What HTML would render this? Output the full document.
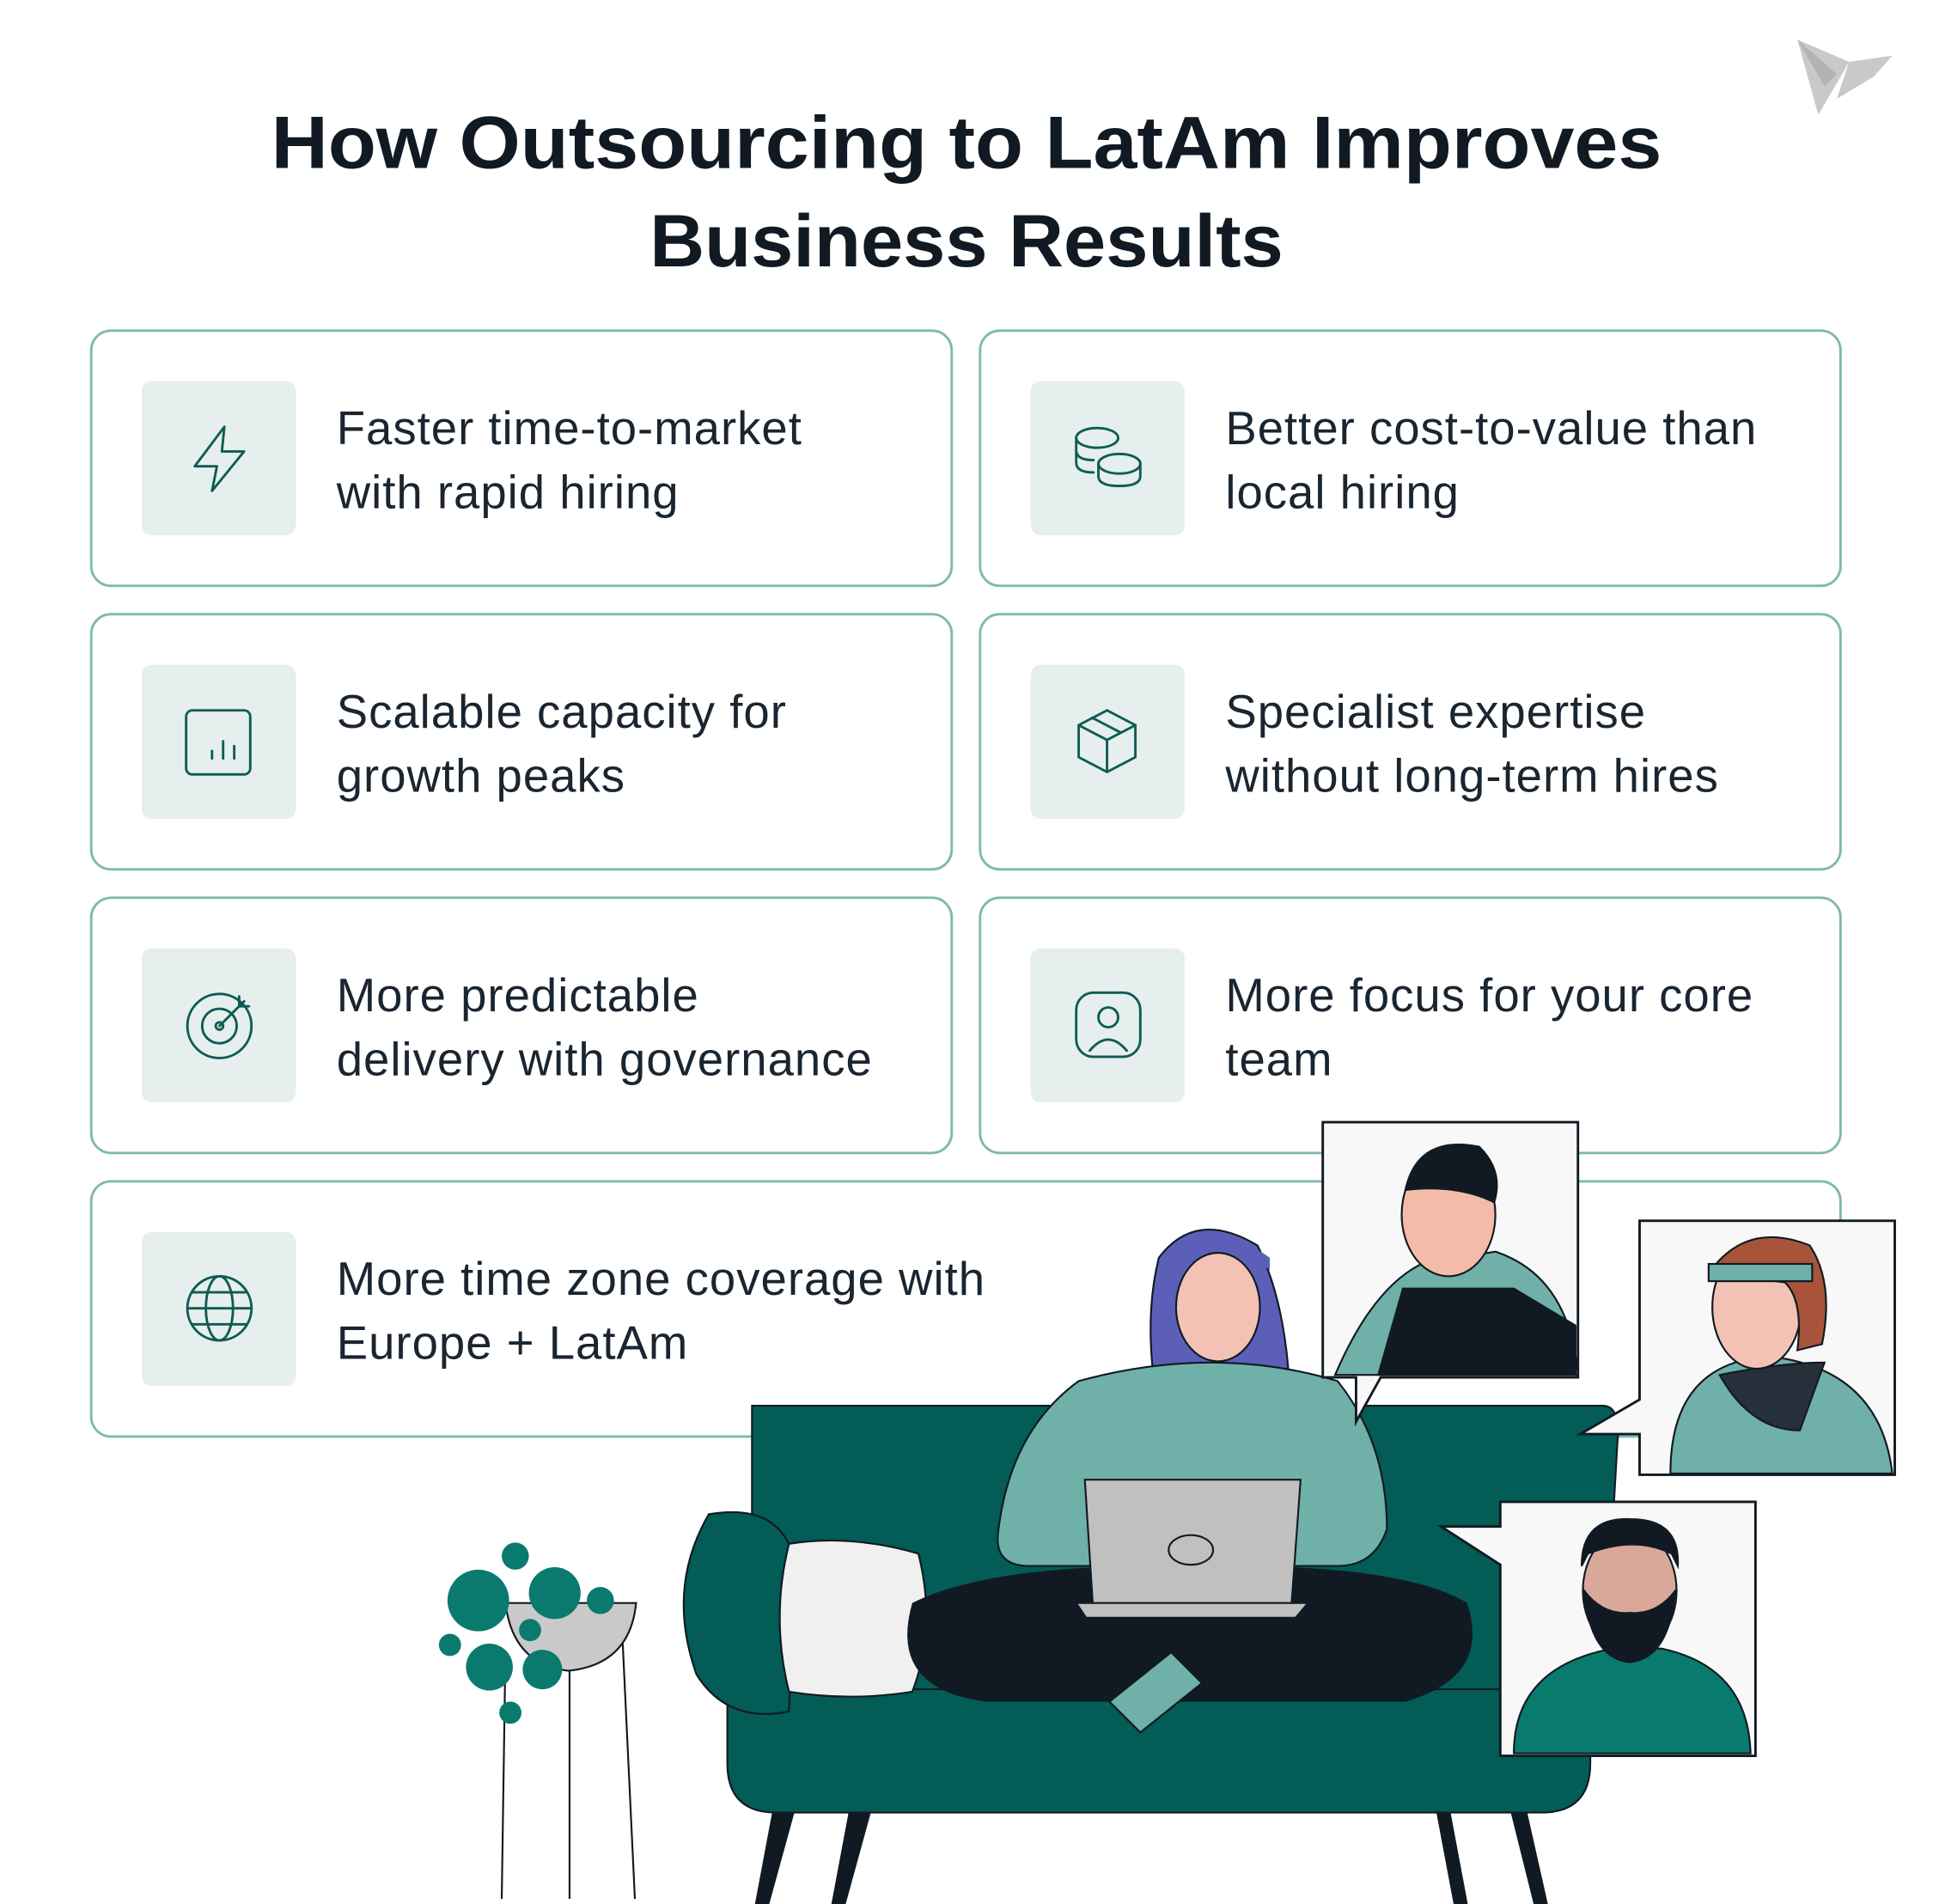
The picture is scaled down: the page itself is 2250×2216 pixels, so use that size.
<!DOCTYPE html>
<html><head><meta charset="utf-8"><style>
html,body{margin:0;padding:0;background:#fff}
svg{display:block}
</style></head><body>
<svg width="2250" height="2216" viewBox="0 0 1568 1544" xmlns="http://www.w3.org/2000/svg" font-family="Liberation Sans, sans-serif">
<rect width="1568" height="1544" fill="#fff"/>
<g fill="#c9c9c9"><polygon points="1458,32 1500,50 1475,93"/><polygon points="1500,50 1535,45 1520,62 1490,80"/><polygon points="1458,32 1490,60 1480,70" fill="#b3b3b3"/></g>
<text x="784" y="136" text-anchor="middle" font-size="60" font-weight="bold" fill="#111a22" textLength="1128" lengthAdjust="spacingAndGlyphs">How Outsourcing to LatAm Improves</text>
<text x="784" y="216" text-anchor="middle" font-size="60" font-weight="bold" fill="#111a22" textLength="514" lengthAdjust="spacingAndGlyphs">Business Results</text>
<g fill="#fff" stroke="#7fb8b0" stroke-width="2">
<rect x="74" y="268" width="698" height="207" rx="16"/>
<rect x="795" y="268" width="698" height="207" rx="16"/>
<rect x="74" y="498" width="698" height="207" rx="16"/>
<rect x="795" y="498" width="698" height="207" rx="16"/>
<rect x="74" y="728" width="698" height="207" rx="16"/>
<rect x="795" y="728" width="698" height="207" rx="16"/>
<rect x="74" y="958" width="1419" height="207" rx="16"/>
</g>
<g fill="#e6efed">
<rect x="115" y="309" width="125" height="125" rx="8"/>
<rect x="836" y="309" width="125" height="125" rx="8"/>
<rect x="115" y="539" width="125" height="125" rx="8"/>
<rect x="836" y="539" width="125" height="125" rx="8"/>
<rect x="115" y="769" width="125" height="125" rx="8"/>
<rect x="836" y="769" width="125" height="125" rx="8"/>
<rect x="115" y="999" width="125" height="125" rx="8"/>
</g>
<g fill="none" stroke="#0d5c55" stroke-width="2" stroke-linejoin="round" stroke-linecap="round">
<polygon points="182,346 158,378 176,378 172,398 198,366 180,366"/>
<ellipse cx="890" cy="355" rx="17" ry="8"/><path d="M873,355v20q0,8 14,8M873,365q0,8 14,8"/><ellipse cx="908" cy="376" rx="17" ry="8"/><path d="M891,376v10q0,8 17,8q17,0 17,-8v-10"/>
<rect x="151" y="576" width="52" height="52" rx="5"/><path d="M172,615v-6M181,615v-14M190,615v-10"/>
<path d="M898,576l23,12v26l-23,12l-23,-12v-26z M875,588l23,12l23,-12 M898,600v26 M886,582l23,12"/>
<circle cx="178" cy="832" r="26"/><circle cx="178" cy="832" r="14"/><circle cx="178" cy="832" r="3"/><path d="M178,832l20,-20M194,808v8h8"/>
<rect x="873" y="805" width="52" height="52" rx="14"/><circle cx="899" cy="825" r="8"/><path d="M884,852q15,-18 30,0"/>
<circle cx="178" cy="1061" r="26"/><ellipse cx="178" cy="1061" rx="11" ry="26"/><path d="M152,1061h52M156,1048h44M156,1074h44"/>
</g>
<g font-size="38" fill="#1a2530" letter-spacing="0.7">
<text x="273" y="360">Faster time-to-market</text><text x="273" y="412">with rapid hiring</text>
<text x="994" y="360">Better cost-to-value than</text><text x="994" y="412">local hiring</text>
<text x="273" y="590">Scalable capacity for</text><text x="273" y="642">growth peaks</text>
<text x="994" y="590">Specialist expertise</text><text x="994" y="642">without long-term hires</text>
<text x="273" y="820">More predictable</text><text x="273" y="872">delivery with governance</text>
<text x="994" y="820">More focus for your core</text><text x="994" y="872">team</text>
<text x="273" y="1050">More time zone coverage with</text><text x="273" y="1102">Europe + LatAm</text>
</g>
<g stroke="#111a22" stroke-width="1.5" fill="none"><path d="M410,1340l-3,200M462,1340v200M505,1330l10,210"/></g>
<path d="M410,1300h106q-5,50 -55,55q-45,-5 -51,-55z" fill="#c9c9c9" stroke="#111a22" stroke-width="1.5"/>
<g fill="#0a7a6e"><circle cx="388" cy="1298" r="25"/><circle cx="450" cy="1292" r="21"/><circle cx="418" cy="1262" r="11"/><circle cx="487" cy="1298" r="11"/><circle cx="397" cy="1352" r="19"/><circle cx="440" cy="1354" r="16"/><circle cx="365" cy="1334" r="9"/><circle cx="430" cy="1322" r="9"/><circle cx="414" cy="1389" r="9"/></g>
<g stroke="#111a22" stroke-width="1.5">
<path d="M628,1465l-15,80h10l22,-80zM690,1465l-15,80h10l22,-80zM1165,1465l15,80h10l-15,-80zM1225,1465l20,80h10l-18,-80z" fill="#111a22"/>
<path d="M610,1140h690q15,0 12,30l-12,210h-690z" fill="#035c56"/>
<path d="M590,1370h700v60q0,40 -40,40h-620q-40,0 -40,-40z" fill="#035c56"/>
<path d="M575,1228q60,-10 70,40l-5,120q-50,10 -75,-30q-25,-70 10,-130z" fill="#035c56"/>
<path d="M640,1252q50,-8 105,8q15,60 -5,112q-50,8 -100,0q-15,-60 0,-120z" fill="#f0f0f0"/>
</g>
<path d="M940,1020q30,-40 80,-10q20,40 25,100h-110q-5,-50 5,-90z" fill="#5b5fb8" stroke="#111a22" stroke-width="1.5"/>
<ellipse cx="988" cy="1060" rx="34" ry="44" fill="#f4c2b4" stroke="#111a22" stroke-width="1.5"/>
<path d="M945,1030q40,-35 85,0v-10q-40,-30 -85,0z" fill="#5b5fb8"/>
<path d="M875,1120q110,-30 210,0q40,50 40,120q-10,30 -40,30h-250q-30,0 -25,-30q10,-80 65,-120z" fill="#6fb0a8" stroke="#111a22" stroke-width="1.5"/>
<path d="M740,1300q60,-30 200,-30l60,0q140,0 190,30q20,60 -50,80h-340q-80,-10 -60,-80z" fill="#111a22"/>
<path d="M900,1380l50,-40l25,25l-50,40z" fill="#6fb0a8" stroke="#111a22" stroke-width="1.5"/>
<path d="M880,1200h175l-8,110h-160z" fill="#c0c0c0" stroke="#111a22" stroke-width="1.5"/>
<path d="M873,1300h188l-10,12h-170z" fill="#c0c0c0" stroke="#111a22" stroke-width="1.5"/>
<ellipse cx="966" cy="1257" rx="18" ry="12" fill="none" stroke="#111a22" stroke-width="1.5"/>
<g stroke="#111a22" stroke-width="2" fill="#f8f8f8">
<path d="M1073,910h207v207h-160l-20,36l0,-36h-27z"/>
<path d="M1330,990h207v206h-207v-33l-48,0l48,-28z"/>
<path d="M1217,1218h207v206h-207v-155l-48,-31h48z"/>
</g>
<g stroke="#111a22" stroke-width="1.5">
<path d="M1083,1115q30,-70 70,-90l60,-10q60,20 67,100z" fill="#6fb0a8"/>
<path d="M1118,1115l20,-70h90l50,30v40z" fill="#111a22"/>
<ellipse cx="1175" cy="985" rx="38" ry="50" fill="#f4bca8"/>
<path d="M1140,965q10,-45 60,-35q20,20 12,45q-30,-15 -72,-10z" fill="#111a22"/>
<path d="M1355,1195q0,-90 80,-95q90,10 100,95z" fill="#6fb0a8"/>
<path d="M1395,1115q50,-10 85,-10l-20,55q-40,0 -65,-45z" fill="#26303a"/>
<ellipse cx="1425" cy="1060" rx="36" ry="50" fill="#f4c2b4"/>
<path d="M1388,1030q30,-40 80,-20q20,30 10,80l-20,5q5,-40 -10,-55q-40,-5 -60,-10z" fill="#a8543a"/>
<rect x="1386" y="1025" width="84" height="14" fill="#6fb0a8"/>
<path d="M1228,1422q0,-70 80,-85h40q70,15 72,85z" fill="#0a7a6e"/>
<ellipse cx="1322" cy="1290" rx="38" ry="50" fill="#d9a899"/>
<path d="M1285,1290q5,55 37,58q32,-3 37,-58q-15,20 -37,18q-22,2 -37,-18z" fill="#111a22"/>
<path d="M1283,1270q0,-40 40,-38q40,0 38,38l-5,-10q-30,-15 -68,0z" fill="#111a22"/>
</g>
</svg>
</body></html>
